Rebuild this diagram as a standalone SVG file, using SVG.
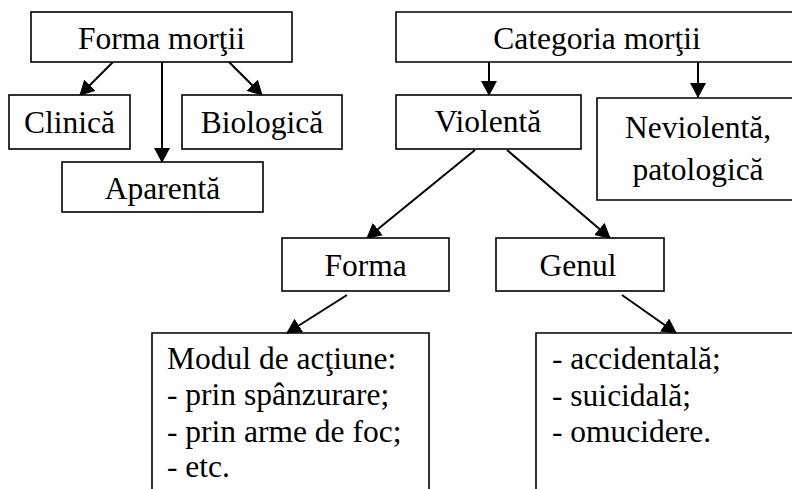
<svg xmlns="http://www.w3.org/2000/svg" width="792" height="489" viewBox="0 0 792 489" font-family="'Liberation Serif', Tinos, 'Times New Roman', 'DejaVu Serif', serif">
<style>
.box{fill:#fff;stroke:#000;stroke-width:1.6}
.open{fill:none;stroke:#000;stroke-width:1.6}
text{font-family:'Liberation Serif', Tinos, 'Times New Roman', 'DejaVu Serif', serif;font-size:31.5px;fill:#000}
.m{text-anchor:middle}
.c{stroke:#000;stroke-width:2;fill:none;marker-end:url(#ah)}
</style>
<defs>
<marker id="ah" viewBox="0 0 15 16" refX="14" refY="8" markerWidth="15" markerHeight="16" markerUnits="userSpaceOnUse" orient="auto">
<path d="M0,0 L15,8 L0,16 z" fill="#000"/>
</marker>
</defs>
<rect width="792" height="489" fill="#fff"/>
<g id="connectors">
<line class="c" x1="113" y1="62" x2="80" y2="95"/>
<line class="c" x1="162" y1="62" x2="162" y2="162"/>
<line class="c" x1="229" y1="62" x2="262" y2="95"/>
<line class="c" x1="489" y1="62" x2="489" y2="95"/>
<line class="c" x1="698" y1="62" x2="698" y2="97"/>
<line class="c" x1="475" y1="150" x2="367" y2="238"/>
<line class="c" x1="507" y1="150" x2="610" y2="238"/>
<line class="c" x1="347" y1="295" x2="287" y2="333"/>
<line class="c" x1="622" y1="295" x2="676" y2="333"/>
</g>
<g id="forma-mortii">
<rect class="box" x="31" y="12" width="261" height="50"/>
<text class="m" x="161.5" y="49">Forma morţii</text>
</g>
<g id="clinica">
<rect class="box" x="9" y="95" width="121" height="54"/>
<text class="m" x="69.5" y="133">Clinică</text>
</g>
<g id="biologica">
<rect class="box" x="182" y="95" width="160" height="54"/>
<text class="m" x="262" y="133">Biologică</text>
</g>
<g id="aparenta">
<rect class="box" x="62" y="162" width="201" height="50"/>
<text class="m" x="162.5" y="199">Aparentă</text>
</g>
<g id="categoria-mortii">
<path class="box" d="M796,12 H396 V62 H796"/>
<text class="m" x="597" y="49">Categoria morţii</text>
</g>
<g id="violenta">
<rect class="box" x="396" y="95" width="185" height="54"/>
<text class="m" x="488" y="132">Violentă</text>
</g>
<g id="neviolenta">
<path class="box" d="M796,98 H597 V200 H796"/>
<text class="m" x="698" y="138">Neviolentă,</text>
<text class="m" x="698" y="180">patologică</text>
</g>
<g id="forma">
<rect class="box" x="282" y="238" width="167" height="53"/>
<text class="m" x="365.5" y="276">Forma</text>
</g>
<g id="genul">
<rect class="box" x="496" y="238" width="168" height="53"/>
<text class="m" x="578" y="276">Genul</text>
</g>
<g id="modul">
<path class="open" d="M152,490 V333 H429 V490"/>
<text x="167" y="369">Modul de acţiune:</text>
<text x="167" y="405">- prin spânzurare;</text>
<text x="167" y="442">- prin arme de foc;</text>
<text x="167" y="477">- etc.</text>
</g>
<g id="tipuri">
<path class="open" d="M536,490 V333 H796"/>
<text x="552" y="369">- accidentală;</text>
<text x="552" y="406">- suicidală;</text>
<text x="552" y="442">- omucidere.</text>
</g>
</svg>
